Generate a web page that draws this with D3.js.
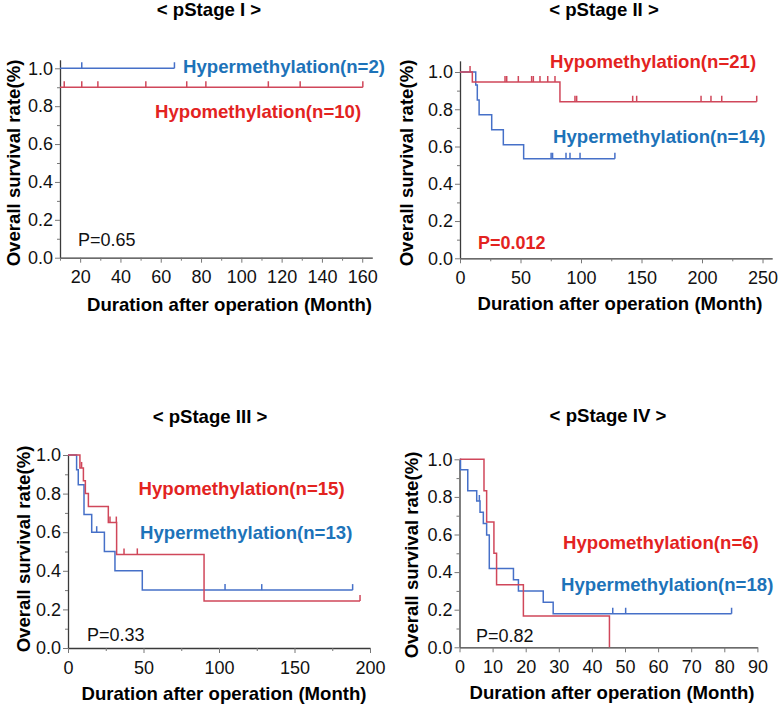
<!DOCTYPE html>
<html><head><meta charset="utf-8">
<script src="https://cdn.jsdelivr.net/npm/d3@7"></script>
<style>body{margin:0;background:#fff} svg{display:block} text{font-family:"Liberation Sans",Arial,sans-serif}</style>
</head><body><svg id="c" width="780" height="706"></svg>
<script>
// ---------- DATA ----------
const panelTitles = ["< pStage I >", "< pStage II >", "< pStage III >", "< pStage IV >"];
const hypoLabels = ["Hypomethylation(n=10)", "Hypomethylation(n=21)", "Hypomethylation(n=15)", "Hypomethylation(n=6)"];
const hyperLabels = ["Hypermethylation(n=2)", "Hypermethylation(n=14)", "Hypermethylation(n=13)", "Hypermethylation(n=18)"];
const pValues = ["P=0.65", "P=0.012", "P=0.33", "P=0.82"];
const xAxisTitle = "Duration after operation (Month)";
const yAxisTitle = "Overall survival rate(%)";

const xMajorTicks = [
  [20, 40, 60, 80, 100, 120, 140, 160],
  [0, 50, 100, 150, 200, 250],
  [0, 50, 100, 150, 200],
  [0, 10, 20, 30, 40, 50, 60, 70, 80, 90]
];
const xMinorTicks = [
  [10, 30, 50, 70, 90, 110, 130, 150],
  [25, 75, 125, 175, 225],
  [25, 75, 125, 175],
  []
];
const yMajorTicks = [0, 0.2, 0.4, 0.6, 0.8, 1.0];
const yMinorTicks = [0.1, 0.3, 0.5, 0.7, 0.9];

// Stage I
const s1HypoEventTimes = [8];
const s1HypoSurvival = [0.9];
const s1HypoCensor = [12.1, 20.8, 28.8, 52.6, 72.9, 82.4, 113.4, 129.2, 160.3];
const s1HypoEnd = 160.3;
const s1HyperEventTimes = [];
const s1HyperSurvival = [];
const s1HyperCensor = [20.8, 66.8];
const s1HyperEnd = 66.8;

// Stage II
const s2HypoEventTimes = [10.2, 82.6];
const s2HypoSurvival = [0.946, 0.84];
const s2HypoCensor = [8.3, 37.2, 38.6, 48.2, 59.2, 60.6, 66.1, 72.5, 78.5, 95.0, 96.4, 142.7, 146.0, 199.2, 207.4, 216.3, 245.2];
const s2HypoEnd = 245.2;
const s2HyperEventTimes = [13.0, 14.3, 15.8, 26.2, 35.8, 52.6];
const s2HyperSurvival = [0.93, 0.85, 0.77, 0.69, 0.61, 0.535];
const s2HyperCensor = [75.3, 76.5, 87.6, 90.9, 99.2, 128.0];
const s2HyperEnd = 128.0;

// Stage III
const s3HypoEventTimes = [7.9, 10.2, 11.5, 13.5, 26.7, 32.2, 90.1];
const s3HypoSurvival = [0.933, 0.867, 0.8, 0.733, 0.65, 0.485, 0.243];
const s3HypoCensor = [9.0, 27.8, 32.0, 37.1, 45.9, 193.4];
const s3HypoEnd = 193.4;
const s3HyperEventTimes = [5.7, 6.8, 10.6, 15.7, 24.1, 31.1, 49.2];
const s3HyperSurvival = [0.923, 0.846, 0.692, 0.6, 0.5, 0.4, 0.3];
const s3HyperCensor = [19.0, 104.0, 128.3, 188.5];
const s3HyperEnd = 188.5;

// Stage IV
const s4HypoEventTimes = [7.4, 8.2, 10.4, 11.2, 19.3, 45.3];
const s4HypoSurvival = [0.833, 0.667, 0.5, 0.333, 0.167, 0];
const s4HypoCensor = [];
const s4HypoEnd = 45.3;
const s4HyperEventTimes = [0.3, 2.5, 5.2, 6.2, 7.2, 8.2, 9.0, 16.3, 17.8, 25.3, 28.3];
const s4HyperSurvival = [0.944, 0.833, 0.778, 0.718, 0.658, 0.598, 0.419, 0.359, 0.299, 0.239, 0.179];
const s4HyperCensor = [6.0, 46.3, 50.2, 82.2];
const s4HyperEnd = 82.2;

const xDomains = [[10, 165], [0, 258], [0, 200], [0, 90]];
const yAxisMax = [1.045, 1.06, 1.0, 1.0];

// ---------- LAYOUT / STYLE ----------
const layouts = [
  {left: 60, right: 372.3, bottom: 257.7, y1: 68.3,
   title: [209, 16], yLab: [13, 163], xLab: [229.5, 311], p: [78, 246],
   hypo: [155, 118], hyper: [183, 73], pBold: false},
  {left: 460, right: 772.2, bottom: 258.3, y1: 72,
   title: [604, 16], yLab: [406, 163], xLab: [620, 310], p: [478, 249],
   hypo: [550, 68], hyper: [553, 142.5], pBold: true},
  {left: 68, right: 370, bottom: 648, y1: 455,
   title: [210, 423], yLab: [23, 549], xLab: [224, 699.5], p: [87, 640.5],
   hypo: [138.5, 494.5], hyper: [140, 539], pBold: false},
  {left: 459.5, right: 757.4, bottom: 647.3, y1: 459.3,
   title: [608, 422], yLab: [411, 555], xLab: [612, 698.5], p: [476, 642],
   hypo: [563, 549], hyper: [561, 590.5], pBold: false}
];
const series = [
  {hypo: [s1HypoEventTimes, s1HypoSurvival, s1HypoCensor, s1HypoEnd], hyper: [s1HyperEventTimes, s1HyperSurvival, s1HyperCensor, s1HyperEnd]},
  {hypo: [s2HypoEventTimes, s2HypoSurvival, s2HypoCensor, s2HypoEnd], hyper: [s2HyperEventTimes, s2HyperSurvival, s2HyperCensor, s2HyperEnd]},
  {hypo: [s3HypoEventTimes, s3HypoSurvival, s3HypoCensor, s3HypoEnd], hyper: [s3HyperEventTimes, s3HyperSurvival, s3HyperCensor, s3HyperEnd]},
  {hypo: [s4HypoEventTimes, s4HypoSurvival, s4HypoCensor, s4HypoEnd], hyper: [s4HyperEventTimes, s4HyperSurvival, s4HyperCensor, s4HyperEnd]}
];

const RED_LINE = "#d0475a", BLUE_LINE = "#4670c8";
const RED_TEXT = "#e3231f", BLUE_TEXT = "#1d73b9";
const AXIS = "#3a3a3a";
const FONT = 18;
const BOLD_FONT = 18.6;

const svg = d3.select("#c");

function survAt(times, surv, t) {
  let s = 1;
  for (let i = 0; i < times.length; i++) if (times[i] <= t) s = surv[i];
  return s;
}

layouts.forEach((L, i) => {
  const g = svg.append("g");
  const x = d3.scaleLinear().domain(xDomains[i]).range([L.left, L.right]);
  const unit = L.bottom - L.y1;
  const y = d3.scaleLinear().domain([0, yAxisMax[i]]).range([L.bottom, L.bottom - unit * yAxisMax[i]]);

  // clip
  const cid = "clip" + i;
  svg.append("clipPath").attr("id", cid).append("rect")
    .attr("x", L.left).attr("y", y(yAxisMax[i]) - 20)
    .attr("width", L.right - L.left + 2).attr("height", L.bottom - y(yAxisMax[i]) + 22);

  // axes
  g.append("g").attr("transform", `translate(${L.left},0)`)
    .call(d3.axisLeft(y).tickValues(yMajorTicks).tickFormat(d3.format(".1f")).tickSize(5).tickSizeOuter(0).tickPadding(2));
  g.append("g").attr("transform", `translate(${L.left},0)`)
    .call(d3.axisLeft(y).tickValues(yMinorTicks).tickFormat("").tickSize(3).tickSizeOuter(0))
    .select(".domain").remove();
  g.append("g").attr("transform", `translate(0,${L.bottom})`)
    .call(d3.axisBottom(x).tickValues(xMajorTicks[i]).tickFormat(d3.format("d")).tickSize(5).tickSizeOuter(0).tickPadding(8));
  g.append("g").attr("transform", `translate(0,${L.bottom})`)
    .call(d3.axisBottom(x).tickValues(xMinorTicks[i]).tickFormat("").tickSize(3).tickSizeOuter(0))
    .select(".domain").remove();
  g.selectAll(".domain").attr("stroke", AXIS).attr("stroke-width", 1.3);
  g.selectAll(".tick line").attr("stroke", "#777").attr("stroke-width", 1);
  g.selectAll(".tick text").attr("font-size", FONT).attr("fill", "#111")
    .attr("font-family", '"Liberation Sans",Arial,sans-serif');

  // curves
  const line = d3.line().x(d => x(d[0])).y(d => y(d[1])).curve(d3.curveStepAfter);
  const curves = g.append("g").attr("clip-path", `url(#${cid})`);
  [["hyper", BLUE_LINE], ["hypo", RED_LINE]].forEach(([key, col]) => {
    const [times, surv, cens, end] = series[i][key];
    const pts = [[0, 1]].concat(times.map((t, k) => [t, surv[k]]));
    pts.push([end, surv.length ? surv[surv.length - 1] : 1]);
    curves.append("path").attr("d", line(pts)).attr("fill", "none")
      .attr("stroke", col).attr("stroke-width", 1.5);
    curves.selectAll(null).data(cens).enter().append("line")
      .attr("x1", d => x(d)).attr("x2", d => x(d))
      .attr("y1", d => y(survAt(times, surv, d)))
      .attr("y2", d => y(survAt(times, surv, d)) - 6)
      .attr("stroke", col).attr("stroke-width", 1.5);
  });

  // texts
  g.append("text").attr("x", L.title[0]).attr("y", L.title[1]).attr("text-anchor", "middle")
    .attr("font-size", BOLD_FONT).attr("font-weight", "bold").text(panelTitles[i]);
  g.append("text").attr("transform", `translate(${L.yLab[0]},${L.yLab[1]}) rotate(-90)`)
    .attr("text-anchor", "middle").attr("dominant-baseline", "central")
    .attr("font-size", BOLD_FONT).attr("font-weight", "bold").text(yAxisTitle);
  g.append("text").attr("x", L.xLab[0]).attr("y", L.xLab[1]).attr("text-anchor", "middle")
    .attr("font-size", BOLD_FONT).attr("font-weight", "bold").text(xAxisTitle);
  g.append("text").attr("x", L.p[0]).attr("y", L.p[1])
    .attr("font-size", FONT).attr("font-weight", L.pBold ? "bold" : "normal")
    .attr("fill", L.pBold ? RED_TEXT : "#111").text(pValues[i]);
  g.append("text").attr("x", L.hypo[0]).attr("y", L.hypo[1])
    .attr("font-size", BOLD_FONT).attr("font-weight", "bold").attr("fill", RED_TEXT).text(hypoLabels[i]);
  g.append("text").attr("x", L.hyper[0]).attr("y", L.hyper[1])
    .attr("font-size", BOLD_FONT).attr("font-weight", "bold").attr("fill", BLUE_TEXT).text(hyperLabels[i]);
});
</script></body></html>
